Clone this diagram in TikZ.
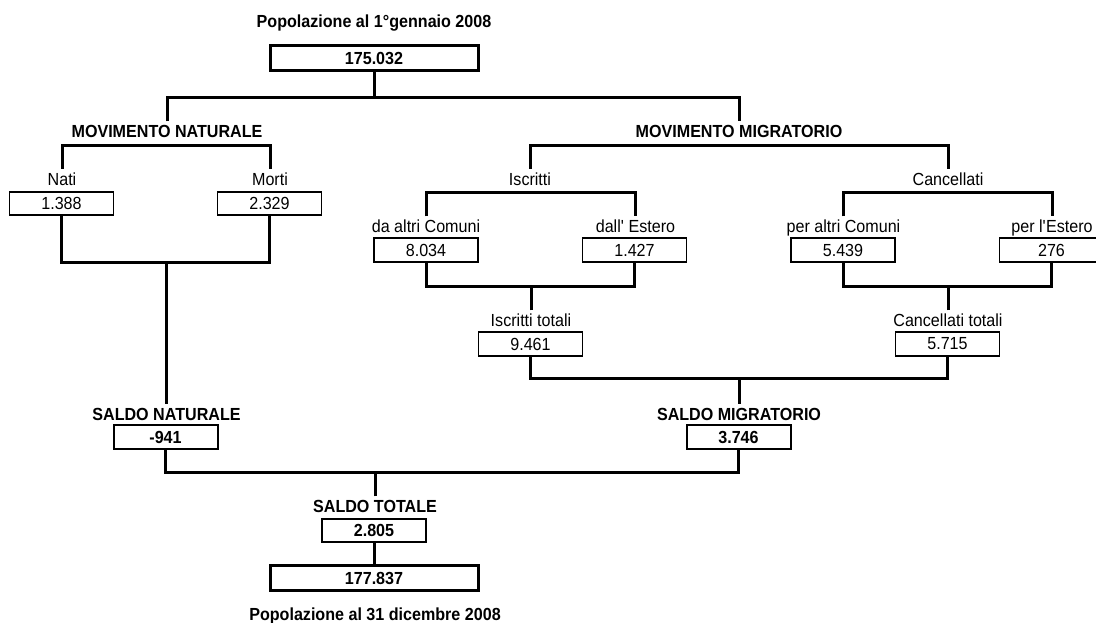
\documentclass[tikz,border=0pt]{standalone}
\usepackage{fontspec}
\setmainfont{Liberation Sans}[FakeStretch=0.92]
\newcommand{\tam}{\fontsize{17.5}{20}\selectfont}
\begin{document}
\begin{tikzpicture}[x=1pt,y=-1pt,font=\tam,
    link/.style={line width=3pt},
    lab/.style={inner xsep=0pt,inner ysep=4pt,text height=12.5pt,text depth=3pt},
    head/.style={lab,font=\tam\bfseries},
    valbox/.style={draw,line width=1.6pt,minimum width=104pt,minimum height=23.5pt,inner sep=0pt},
    saldobox/.style={valbox,line width=2pt,font=\tam\bfseries},
    totbox/.style={valbox,line width=3pt,minimum width=208pt,minimum height=25pt,font=\tam\bfseries}]
          \useasboundingbox (0,0) rectangle (1096,622);

          % Popolazione iniziale
          \node (tit0) at (374,23.5) {\bfseries Popolazione al 1°gennaio 2008};
          \node[totbox] (pop0) at (374,58) {175.032};

          % Movimento naturale
          \node[head] (movnat) at (167,133.2) {MOVIMENTO NATURALE};
          \node[lab] (nati) at (62,180.5) {Nati};
          \node[lab] (morti) at (270,180.5) {Morti};
          \node[valbox] (natibox) at (61.5,203.5) {1.388};
          \node[valbox] (mortibox) at (269.5,203.5) {2.329};

          % Movimento migratorio
          \node[head] (movmig) at (739,133.2) {MOVIMENTO MIGRATORIO};
          \node[lab] (iscr) at (530,180.5) {Iscritti};
          \node[lab] (canc) at (948,180.5) {Cancellati};
          \node[lab] (daltri) at (426,228.2) {da altri Comuni};
          \node[lab] (destero) at (635.5,228.2) {dall\textquotesingle\ Estero};
          \node[lab] (paltri) at (843.5,228.2) {per altri Comuni};
          \node[lab] (pestero) at (1052,228.2) {per l\textquotesingle Estero};
          \node[valbox] (daltribox) at (426,250) {8.034};
          \node[valbox] (desterobox) at (634.5,250) {1.427};
          \node[valbox] (paltribox) at (843,250) {5.439};
          \node[valbox] (pesterobox) at (1051.5,250) {276};
          \node[lab] (iscrtot) at (531,322.2) {Iscritti totali};
          \node[lab] (canctot) at (948,322.2) {Cancellati totali};
          \node[valbox] (iscrtotbox) at (530.5,344) {9.461};
          \node[valbox] (canctotbox) at (947.5,344) {5.715};

          % Saldi
          \node[head] (saldonat) at (166.5,415.5) {SALDO NATURALE};
          \node[saldobox] (saldonatbox) at (165.5,437) {-941};
          \node[head] (saldomig) at (739,415.5) {SALDO MIGRATORIO};
          \node[saldobox] (saldomigbox) at (738.5,437) {3.746};
          \node[head] (saldotot) at (375,508.2) {SALDO TOTALE};
          \node[saldobox] (saldototbox) at (374,530.3) {2.805};

          % Popolazione finale
          \node[totbox] (pop1) at (374,578) {177.837};
          \node (tit1) at (375,615.5) {\bfseries Popolazione al 31 dicembre 2008};

          % Primo livello
          \draw[link] (movnat.north) -- ++(0,-23.8) coordinate (bar0) -| (movmig.north);
          \draw[link] (pop0.south) -- (pop0.south |- bar0);

          % Ramo naturale
          \draw[link] (nati.north) |- (movnat.south) -| (morti.north);
          \draw[link] (saldonat.north) -- ++(0,-141) coordinate (barnat);
          \draw[link] (natibox.south) |- (barnat) -| (mortibox.south);

          % Ramo migratorio
          \draw[link] (iscr.north) |- (movmig.south) -| (canc.north);
          \draw[link] (daltri.north) |- (iscr.south) -| (destero.north);
          \draw[link] (paltri.north) |- (canc.south) -| (pestero.north);
          \draw[link] (iscrtot.north) -- ++(0,-23.8) coordinate (bariscr);
          \draw[link] (daltribox.south) |- (bariscr) -| (desterobox.south);
          \draw[link] (canctot.north) -- ++(0,-23.8) coordinate (barcanc);
          \draw[link] (paltribox.south) |- (barcanc) -| (pesterobox.south);
          \draw[link] (saldomig.north) -- ++(0,-24.8) coordinate (barmig);
          \draw[link] (iscrtotbox.south) |- (barmig) -| (canctotbox.south);

          % Saldo totale
          \draw[link] (saldotot.north) -- ++(0,-23.8) coordinate (bartot);
          \draw[link] (saldonatbox.south) |- (bartot) -| (saldomigbox.south);
          \draw[link] (saldototbox.south) -- (pop1.north);

        \end{tikzpicture}
\end{document}
